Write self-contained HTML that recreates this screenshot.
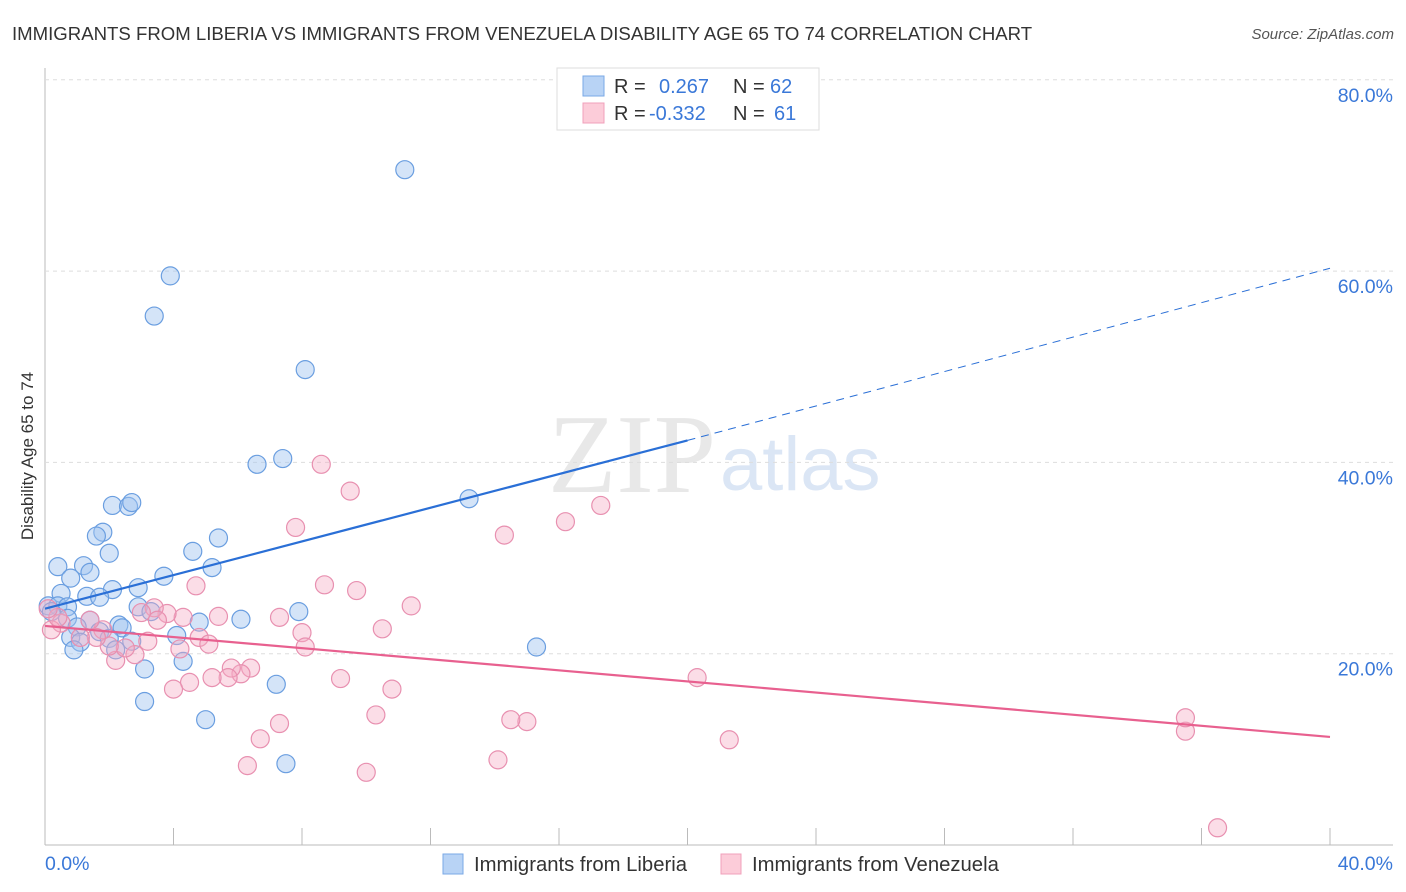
<!DOCTYPE html>
<html><head><meta charset="utf-8">
<style>
body{margin:0;background:#fff;font-family:"Liberation Sans",sans-serif;}
svg{display:block}
</style></head>
<body>
<svg id="chart" width="1406" height="892" xmlns="http://www.w3.org/2000/svg">
<text x="12" y="40" font-size="18.6" fill="#333">IMMIGRANTS FROM LIBERIA VS IMMIGRANTS FROM VENEZUELA DISABILITY AGE 65 TO 74 CORRELATION CHART</text>
<text x="1394" y="39" font-size="15" fill="#555" font-style="italic" text-anchor="end">Source: ZipAtlas.com</text>
<text x="716" y="492" font-size="112" fill="#e8e8e8" text-anchor="end" font-family="Liberation Serif,serif">ZIP</text>
<text x="720" y="490" font-size="76" fill="#dbe6f5">atlas</text>
<text transform="translate(33,456) rotate(-90)" font-size="17" fill="#333" text-anchor="middle">Disability Age 65 to 74</text>
<g id="grid"></g>
<g id="marks"></g>
<g>
<rect x="557" y="68" width="262" height="62" fill="#fff" stroke="#ddd"/>
<rect x="583" y="76" width="21" height="20" fill="#b8d3f5" stroke="#7aa8e6"/>
<rect x="583" y="103" width="21" height="20" fill="#fcccd9" stroke="#f0a0bb"/>
<text x="614" y="93" font-size="20" fill="#333">R =</text>
<text x="659" y="93" font-size="20" fill="#3a78d8">0.267</text>
<text x="733" y="93" font-size="20" fill="#333">N =</text>
<text x="770" y="93" font-size="20" fill="#3a78d8">62</text>
<text x="614" y="120" font-size="20" fill="#333">R =</text>
<text x="649" y="120" font-size="20" fill="#3a78d8">-0.332</text>
<text x="733" y="120" font-size="20" fill="#333">N =</text>
<text x="774" y="120" font-size="20" fill="#3a78d8">61</text>
</g>
<g>
<rect x="443" y="854" width="20" height="20" fill="#b8d3f5" stroke="#7aa8e6"/>
<text x="474" y="871" font-size="20.3" fill="#333">Immigrants from Liberia</text>
<rect x="721" y="854" width="20" height="20" fill="#fcccd9" stroke="#f0a0bb"/>
<text x="752" y="871" font-size="20.3" fill="#333">Immigrants from Venezuela</text>
</g>
</svg>
<script>
const xTicks=[0,4,8,12,16,20,24,28,32,36,40];
const yTicks=[20,40,60,80];
const blueX=[11.2,3.9,3.4,8.1,7.4,6.6,13.2,2.1,2.6,2.7,1.8,1.6,5.4,4.6,2.0,0.4,1.2,1.4,0.8,5.2,3.7,2.9,2.1,0.5,1.3,0.1,0.4,0.7,2.9,7.9,3.3,6.1,4.8,1.4,0.7,1.0,2.3,2.4,1.7,4.1,0.8,2.0,2.7,1.1,0.9,2.2,15.3,4.3,3.1,7.2,3.1,5.0,7.5,0.2,1.7];
const blueY=[70.6,59.5,55.3,49.7,40.4,39.8,36.2,35.5,35.4,35.8,32.7,32.3,32.1,30.7,30.5,29.1,29.2,28.5,27.9,29.0,28.1,26.9,26.7,26.3,26.0,25.0,25.0,24.9,24.9,24.4,24.4,23.6,23.3,23.5,23.7,22.8,23.0,22.7,22.3,21.9,21.7,21.6,21.3,21.2,20.4,20.4,20.7,19.2,18.4,16.8,15.0,13.1,8.5,24.4,25.9];
const pinkX=[36.5,35.5,35.5,21.3,20.3,17.3,16.2,14.3,15.0,14.5,14.1,11.4,10.5,10.8,10.3,10.0,9.7,9.5,8.7,8.6,9.2,7.8,7.3,8.0,8.1,7.3,6.7,6.3,6.4,6.1,5.8,5.7,5.2,5.4,4.8,5.1,4.7,4.3,4.5,4.0,4.2,3.8,3.4,3.5,3.0,3.2,2.8,2.2,2.5,2.0,1.8,1.4,1.6,1.1,0.5,0.2,0.4,0.1];
const pinkY=[1.8,11.9,13.3,11.0,17.5,35.5,33.8,32.4,12.9,13.1,8.9,25.0,22.6,16.3,13.6,7.6,26.6,37.0,27.2,39.8,17.4,33.2,23.8,22.2,20.7,12.7,11.1,8.3,18.5,17.9,18.5,17.5,17.5,23.9,21.7,21.0,27.1,23.8,17.0,16.3,20.5,24.2,24.8,23.5,24.3,21.3,19.9,19.3,20.6,20.8,22.5,23.5,21.7,21.7,23.2,22.5,23.8,24.7];
const blueTrend=[0,24.7,20,42.3,40,60.3];
const pinkTrend=[0,22.9,40,11.3];
const X=v=>45+v/40*1285, Y=v=>845-v/20*191.3;
const NS='http://www.w3.org/2000/svg';
function mk(tag,attrs,parent){const e=document.createElementNS(NS,tag);for(const k in attrs)e.setAttribute(k,attrs[k]);parent.appendChild(e);return e;}
const grid=document.getElementById('grid'), marks=document.getElementById('marks');
let ax=mk('line',{x1:45,y1:68,x2:45,y2:845,stroke:'#bbb'},grid);


let bx=mk('line',{x1:45,y1:845,x2:1393,y2:845,stroke:'#bbb'},grid);


yTicks.forEach(t=>{
 const g=mk('line',{x1:45,y1:Y(t),x2:1393,y2:Y(t),stroke:'#ddd','stroke-dasharray':'4,4'},grid);
 
 
 const l=mk('text',{x:1393,y:Y(t)+22,'font-size':19.5,fill:'#3a78d8','text-anchor':'end'},grid);
 l.textContent=t.toFixed(1)+'%';
 
 
});
xTicks.forEach(t=>{
 const g=mk('line',{x1:X(t),y1:828,x2:X(t),y2:845,stroke:'#bbb'},grid);
 
 
});
[[0,'start',45],[40,'end',1393]].forEach(([t,a,x])=>{
 const l=mk('text',{x:x,y:870,'font-size':19.5,fill:'#3a78d8','text-anchor':a},grid);
 l.textContent=t.toFixed(1)+'%';
 
 
});
blueX.forEach((v,i)=>{
 const c=mk('circle',{cx:X(v),cy:Y(blueY[i]),r:9,fill:'rgba(160,196,240,0.45)',stroke:'#6a9ee0','stroke-width':1.2},marks);
 
 
});
pinkX.forEach((v,i)=>{
 const c=mk('circle',{cx:X(v),cy:Y(pinkY[i]),r:9,fill:'rgba(245,170,195,0.4)',stroke:'#e890b0','stroke-width':1.2},marks);
 
 
});
let t1=mk('line',{x1:X(blueTrend[0]),y1:Y(blueTrend[1]),x2:X(blueTrend[2]),y2:Y(blueTrend[3]),stroke:'#2a6fd6','stroke-width':2.2},marks);


let t2=mk('line',{x1:X(blueTrend[2]),y1:Y(blueTrend[3]),x2:X(blueTrend[4]),y2:Y(blueTrend[5]),stroke:'#2a6fd6','stroke-width':1,'stroke-dasharray':'8,6'},marks);


let t3=mk('line',{x1:X(pinkTrend[0]),y1:Y(pinkTrend[1]),x2:X(pinkTrend[2]),y2:Y(pinkTrend[3]),stroke:'#e8608f','stroke-width':2.2},marks);


</script>
</body></html>
